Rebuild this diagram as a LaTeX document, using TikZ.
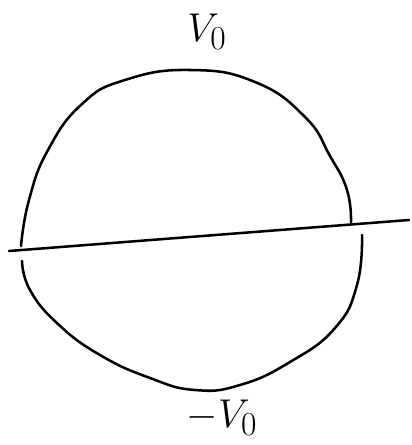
\documentclass[tikz,border=0pt]{standalone}
\usetikzlibrary{positioning}
\tikzset{
  rim/.style={line width=1.8pt, draw=black, line cap=round, line join=round},
  axisline/.style={line width=1.8pt, draw=black, line cap=round},
  potlabel/.style={font=\Huge, scale=1.15, inner sep=1pt}
}
\begin{document}
\begin{tikzpicture}[x=0.025cm, y=-0.025cm]
  \useasboundingbox (0,0) rectangle (412,445);
  % labels
  \node[potlabel] (vtop) at (207,32) {$V_0$};
  \node[potlabel] (vbot) at (222,418) {$-V_0$};
  % upper half
  \draw[rim] plot[smooth, tension=0.8] coordinates {(351,222) (347,190) (330,156) (305,117) (255,82) (190,70) (125,80) (82,104) (48,150) (29,200) (21,246)};
  % lower half
  \draw[rim] plot[smooth, tension=0.8] coordinates {(362,235) (357,285) (335,328) (290,362) (240,385) (195,390) (150,378) (100,355) (58,324) (30,290) (22,261)};
  % dividing line
  \coordinate (west) at (9,251);
  \coordinate (east) at (409,220);
  \draw[axisline] (west) -- (east);
\end{tikzpicture}
\end{document}
